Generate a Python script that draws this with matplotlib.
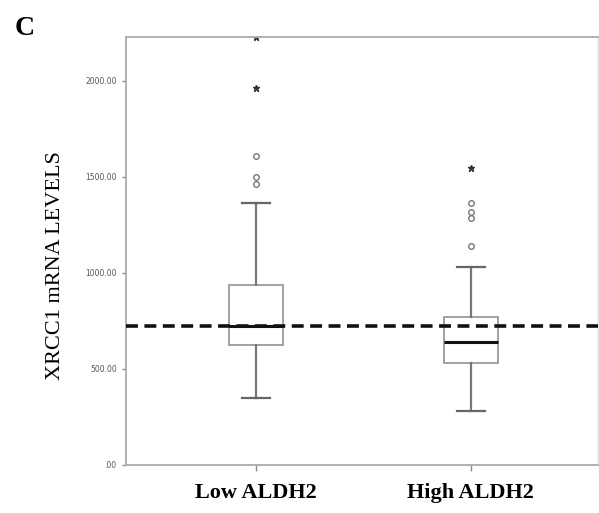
import matplotlib
matplotlib.use("Agg")
import matplotlib.pyplot as plt
from matplotlib.ticker import FuncFormatter

# box summary for each ALDH2 group
groups = ["Low ALDH2", "High ALDH2"]
q1 = [625, 530]
med = [724, 642]
q3 = [937, 773]
whislo = [351, 281]
whishi = [1363, 1033]
# mild outliers (circles) and extremes (stars)
circles = [[1611, 1502, 1464], [1363, 1320, 1285, 1142]]
stars = [[2227, 1962], [1545]]
cutoff = 724
yticks = [0, 500, 1000, 1500, 2000]

fig = plt.figure(figsize=(5.99, 5.13), dpi=100)
ax = fig.add_axes([0.2099, 0.0936, 0.788, 0.8343])

stats = []
for i in range(2):
    stats.append(dict(q1=q1[i], med=med[i], q3=q3[i], whislo=whislo[i],
                      whishi=whishi[i], fliers=[], label=groups[i]))

grey = "#8a8a8a"
ax.bxp(stats, positions=[1, 2], widths=0.25, capwidths=0.13,
       patch_artist=True, showfliers=False,
       boxprops=dict(facecolor="white", edgecolor="#9a9a9a", linewidth=1.3),
       whiskerprops=dict(color="#777777", linewidth=1.6),
       capprops=dict(color="#666666", linewidth=1.6),
       medianprops=dict(color="#111111", linewidth=2.2))

for i in range(2):
    ax.plot([i + 1] * len(circles[i]), circles[i], linestyle="none", marker="o",
            markersize=4, markerfacecolor="white", markeredgecolor="#777777",
            markeredgewidth=1.0)
    ax.plot([i + 1] * len(stars[i]), stars[i], linestyle="none", marker="*",
            markersize=5, color="#333333")

ax.axhline(cutoff, color="#111111", linewidth=2.6, linestyle=(0, (3.3, 1.8)),
           zorder=5)

ax.set_xlim(0.394, 2.591)
ax.set_ylim(0, 2229)
ax.set_yticks(yticks)
ax.yaxis.set_major_formatter(FuncFormatter(
    lambda v, p: ".00" if v == 0 else "%.2f" % v))
ax.set_xticks([1, 2])
ax.set_xticklabels(groups, family="Liberation Serif", fontweight="bold",
                   fontsize=16)
ax.tick_params(axis="y", labelsize=5.5, labelcolor="#555555", color=grey,
               length=3, width=1)
ax.tick_params(axis="x", color=grey, length=4, width=1, pad=9)
for s in ax.spines.values():
    s.set_color("#aaaaaa")
    s.set_linewidth(1.3)
ax.spines["right"].set_color("#e6e6e6")

ax.set_ylabel("XRCC1 mRNA LEVELS", family="Liberation Serif", fontsize=16)
ax.yaxis.set_label_coords(-0.128, 0.467)
fig.text(0.024, 0.945, "C", family="Liberation Serif", fontweight="bold",
         fontsize=20, va="center")

fig.savefig("out.png", dpi=100)
